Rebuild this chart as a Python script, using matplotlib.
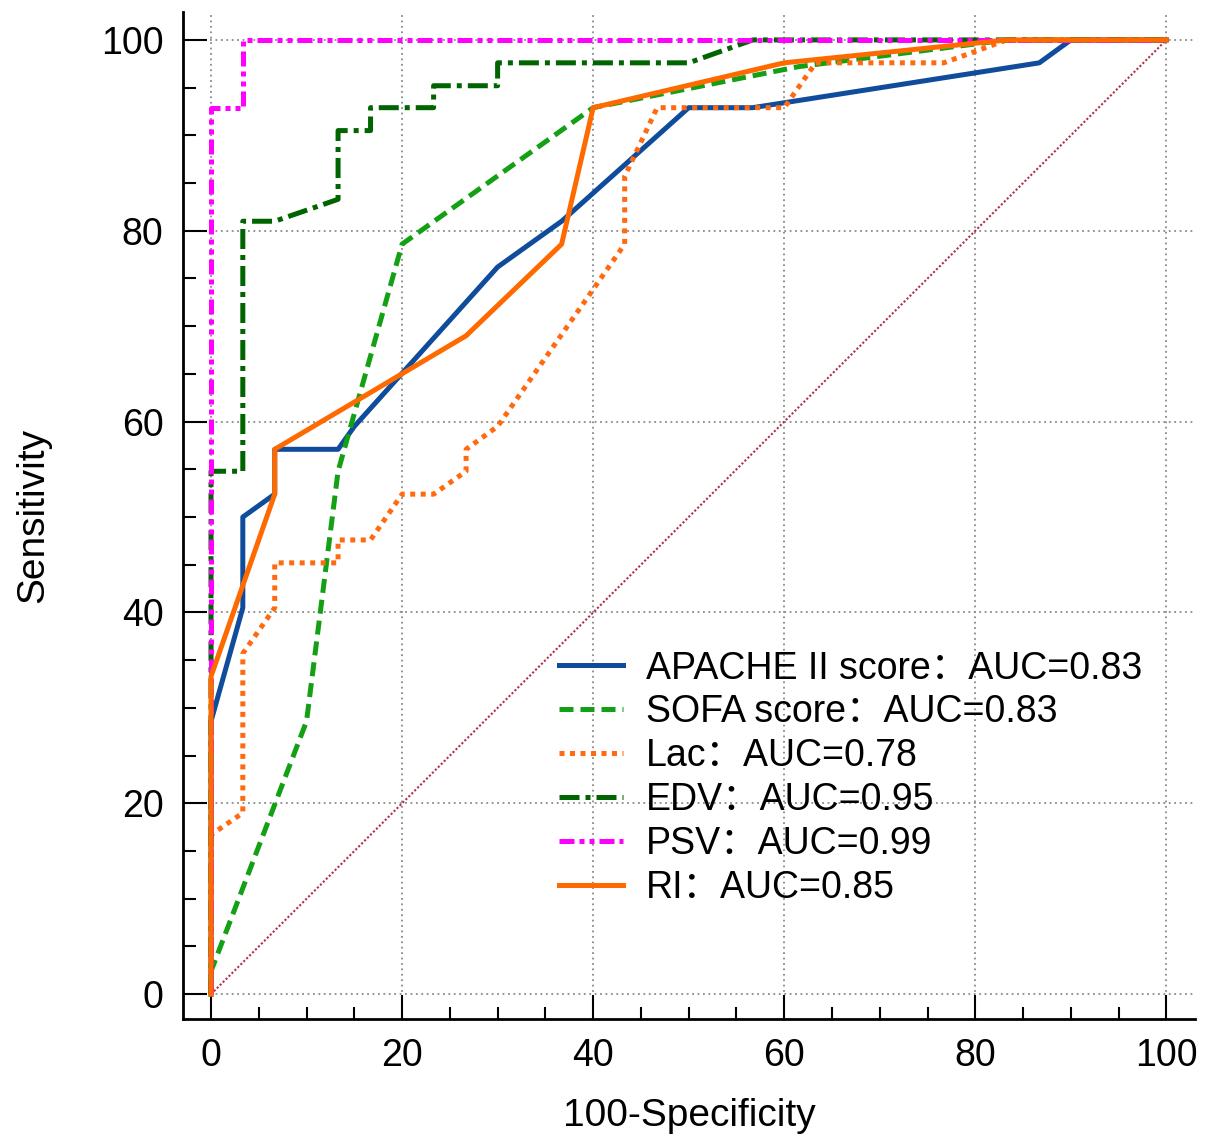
import matplotlib
matplotlib.use("Agg")
import matplotlib.pyplot as plt
from matplotlib.ticker import MultipleLocator

plt.rcParams['font.family'] = ['Liberation Sans', 'Noto Sans CJK SC', 'DejaVu Sans']

# ROC curves (x = 100-Specificity, y = Sensitivity)
apache_x = [0, 0, 3.33, 3.33, 6.67, 6.67, 13.3, 15, 30, 36.7, 50, 56.7, 86.7, 90, 100]
apache_y = [0, 28.6, 40.5, 50, 52.4, 57.1, 57.1, 59.5, 76.2, 81, 92.9, 92.9, 97.6, 100, 100]

sofa_x = [0, 0, 10, 13.3, 20, 40, 61.5, 83.3, 100]
sofa_y = [0, 2.4, 28.6, 54.8, 78.6, 92.9, 97.2, 100, 100]

lac_x = [0, 0, 3.33, 3.33, 6.67, 6.67, 13.3, 13.3, 16.7, 20, 23.3, 26.7, 26.7, 30,
         43.3, 43.3, 46.7, 60, 63.3, 76.7, 83.3, 100]
lac_y = [0, 16.7, 19, 35.7, 40.5, 45.2, 45.2, 47.6, 47.6, 52.4, 52.4, 54.8, 57.1, 59.5,
         78.6, 85.7, 92.9, 92.9, 97.6, 97.6, 100, 100]

edv_x = [0, 0, 3.33, 3.33, 6.67, 13.3, 13.3, 16.7, 16.7, 23.3, 23.3, 30, 30, 50, 56.7, 100]
edv_y = [0, 54.8, 54.8, 81, 81, 83.3, 90.5, 90.5, 92.9, 92.9, 95.2, 95.2, 97.6, 97.6, 100, 100]

psv_x = [0, 0, 3.33, 3.33, 100]
psv_y = [0, 92.9, 92.9, 100, 100]

ri_x = [0, 0, 6.67, 6.67, 26.7, 36.7, 40, 60, 83.3, 100]
ri_y = [0, 33.3, 52.4, 57.1, 69, 78.6, 92.9, 97.6, 100, 100]

labels = ["APACHE II score\uff1aAUC=0.83", "SOFA score\uff1aAUC=0.83", "Lac\uff1aAUC=0.78",
          "EDV\uff1aAUC=0.95", "PSV\uff1aAUC=0.99", "RI\uff1aAUC=0.85"]

fig = plt.figure(figsize=(12.12, 11.35), dpi=100)
ax = fig.add_axes([0.151, 0.1022, 0.835, 0.887])

# chance line
ax.plot([0, 100], [0, 100], color='#b03040', lw=1.5, ls=(0, (1, 1)))

lw = 3.6
ax.plot(apache_x, apache_y, color='#0f4c9c', lw=lw, label=labels[0])
ax.plot(sofa_x, sofa_y, color='#14a014', lw=lw, ls=(0, (2.8, 1.4)), label=labels[1])
ax.plot(lac_x, lac_y, color='#ff6a10', lw=lw, ls=(0, (1, 1.1)), label=labels[2])
ax.plot(edv_x, edv_y, color='#006400', lw=lw, ls=(0, (4, 1.2, 1, 1.2)), label=labels[3])
ax.plot(psv_x, psv_y, color='#ff00ff', lw=lw, ls=(0, (3, 1, 1, 1, 1, 1)), label=labels[4])
ax.plot(ri_x, ri_y, color='#ff6a00', lw=lw, label=labels[5])

ax.set_xlim(-2.93, 103)
ax.set_ylim(-2.6, 102.9)
ax.xaxis.set_major_locator(MultipleLocator(20))
ax.xaxis.set_minor_locator(MultipleLocator(5))
ax.yaxis.set_major_locator(MultipleLocator(20))
ax.yaxis.set_minor_locator(MultipleLocator(5))
ax.tick_params(which='major', direction='in', length=17, width=1.5, labelsize=27, pad=14)
ax.tick_params(which='minor', direction='in', length=9, width=1.5)
ax.grid(True, which='major', color='#8a8a8a', lw=1.3, ls=(0, (1, 2)))
ax.spines['top'].set_visible(False)
ax.spines['right'].set_visible(False)
for s in ('left', 'bottom'):
    ax.spines[s].set_linewidth(2)

ax.set_xlabel('100-Specificity', fontsize=28, labelpad=17)
ax.set_ylabel('Sensitivity', fontsize=28, labelpad=36)

leg = ax.legend(loc='upper left', bbox_to_anchor=(0.372, 0.366), frameon=False,
                fontsize=27, handlelength=1.7, handletextpad=0.6, labelspacing=0.21,
                borderpad=0, borderaxespad=0)

fig.savefig('out.png', dpi=100)
